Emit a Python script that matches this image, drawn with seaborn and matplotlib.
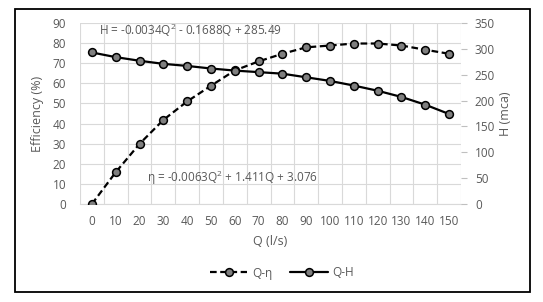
import pandas as pd
import matplotlib.pyplot as plt
import seaborn as sns
from matplotlib.patches import Rectangle
from matplotlib.lines import Line2D

q = [0, 10, 20, 30, 40, 50, 60, 70, 80, 90, 100, 110, 120, 130, 140, 150]
eff = [0, 15.8, 29.9, 41.8, 51, 58.8, 66.4, 70.9, 74.7, 77.9, 78.8, 79.8, 79.8, 78.8, 76.7, 74.7]
head = [293, 284, 277, 271, 267, 262, 258, 255, 252, 245, 238, 229, 219, 207, 192, 174]
eff_eq = "η = -0.0063Q$^2$ + 1.411Q + 3.076"
head_eq = "H = -0.0034Q$^2$ - 0.1688Q + 285.49"

df = pd.DataFrame({'Q': q, 'eff': eff, 'H': head})

sns.set_style('white')
plt.rcParams['font.family'] = ['Open Sans', 'DejaVu Sans']
plt.rcParams['mathtext.default'] = 'regular'
grey = '#595959'

fig = plt.figure(figsize=(5.43, 3.02), dpi=100)
ax = fig.add_axes([80 / 543, 1 - 204 / 302, 381 / 543, 181 / 302])
ax2 = ax.twinx()

mk = dict(marker='o', markersize=5.6, markerfacecolor='#7f7f7f',
          markeredgecolor='black', markeredgewidth=1.1)
sns.lineplot(data=df, x='Q', y='eff', ax=ax, color='black', lw=1.6,
             linestyle=(0, (3, 1.6)), zorder=3, **mk)
sns.lineplot(data=df, x='Q', y='H', ax=ax2, color='black', lw=1.6, zorder=3, **mk)

ax.set_xlim(-5, 155)
ax.set_ylim(0, 90)
ax2.set_ylim(0, 350)
ax.set_xticks(q)
ax.set_xticks([v - 5 for v in q] + [155], minor=True)
ax.set_yticks(range(0, 91, 10))
ax2.set_yticks(range(0, 351, 50))

ax.grid(True, which='major', axis='y', color='#d9d9d9', lw=0.8)
ax.grid(True, which='minor', axis='x', color='#d9d9d9', lw=0.8)
ax.set_axisbelow(True)

for a in (ax, ax2):
    for s in a.spines.values():
        s.set_visible(False)
ax.spines['bottom'].set_visible(True)
ax.spines['bottom'].set_color('#d9d9d9')

ax.tick_params(axis='x', which='both', length=0, labelsize=8.5, colors=grey, pad=8)
ax.tick_params(axis='y', length=0, labelsize=8.5, colors=grey, pad=10)
ax2.tick_params(axis='y', length=4, width=0.8, color='#bfbfbf', labelsize=8.5,
                labelcolor=grey, pad=6)

ax.set_xlabel('Q (l/s)', color=grey, fontsize=9, labelpad=5)
ax.set_ylabel('Efficiency (%)', color=grey, fontsize=9, labelpad=6)
ax2.set_ylabel('H (mca)', color=grey, fontsize=9, labelpad=3)

ax.text(3, 86.5, head_eq, color=grey, fontsize=8.5, ha='left', va='center')
ax.text(23, 13, eff_eq, color=grey, fontsize=8.5, ha='left', va='center')

handles = [Line2D([], [], color='black', lw=1.6, linestyle=(0, (3, 1.6)), **mk),
           Line2D([], [], color='black', lw=1.6, **mk)]
fig.legend(handles, ['Q-η', 'Q-H'], loc='center', bbox_to_anchor=(282 / 543, 1 - 273 / 302),
           ncol=2, frameon=False, fontsize=8.5, labelcolor=grey, handlelength=3.2,
           columnspacing=1.5, handletextpad=0.4)

fig.patches.append(Rectangle((15 / 543, 1 - 292 / 302), 515 / 543, 283 / 302,
                             transform=fig.transFigure, fill=False,
                             edgecolor='black', lw=1.3))

fig.savefig('out.png', dpi=100)
